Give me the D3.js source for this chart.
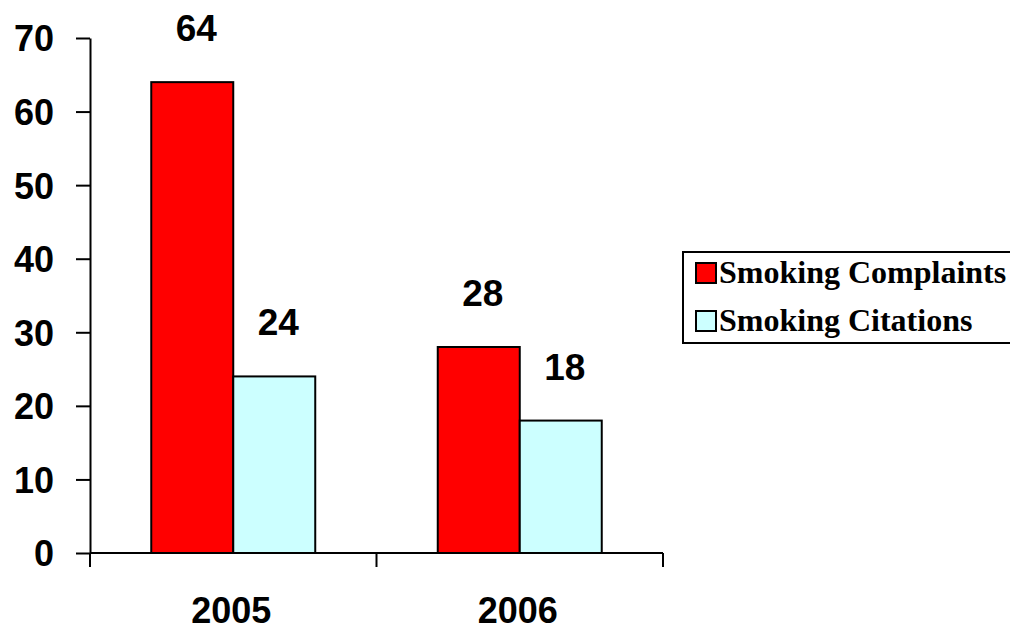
<!DOCTYPE html>
<html>
<head>
<meta charset="utf-8">
<script src="https://cdn.jsdelivr.net/npm/d3@7"></script>
<style>
  body { margin: 0; background: #fff; }
  svg { display: block; }
</style>
</head>
<body>
<div id="chart"></div>
<script>
// chart data
const years = ["2005", "2006"];
const seriesNames = ["Smoking Complaints", "Smoking Citations"];
const complaints = [64, 28];
const citations = [24, 18];
const yTicks = [0, 10, 20, 30, 40, 50, 60, 70];
const colors = ["#ff0000", "#ccffff"];

const width = 1010, height = 630;
const plotLeft = 90, plotRight = 663, plotTop = 38, plotBottom = 553;
const sans = "Liberation Sans, Arial, sans-serif";

const svg = d3.select("#chart").append("svg")
  .attr("width", width)
  .attr("height", height);

const x = d3.scaleBand().domain(years).range([plotLeft, plotRight]).paddingInner(0).paddingOuter(0);
const x1 = d3.scaleBand().domain(seriesNames).range([0, x.bandwidth()]).paddingOuter(0.747).paddingInner(0);
const y = d3.scaleLinear().domain([0, 70]).range([plotBottom, plotTop]);

const series = [complaints, citations];

// bars + value labels
seriesNames.forEach((name, s) => {
  svg.append("g").selectAll("rect")
    .data(years)
    .join("rect")
    .attr("x", d => x(d) + x1(name))
    .attr("y", (d, i) => y(series[s][i]))
    .attr("width", x1.bandwidth())
    .attr("height", (d, i) => y(0) - y(series[s][i]))
    .attr("fill", colors[s])
    .attr("stroke", "#000")
    .attr("stroke-width", 2);

  svg.append("g").selectAll("text")
    .data(years)
    .join("text")
    .attr("x", d => x(d) + x1(name) + x1.bandwidth() / 2 + 4)
    .attr("y", (d, i) => y(series[s][i]) - 41)
    .attr("text-anchor", "middle")
    .style("font-family", sans)
    .style("font-weight", "bold")
    .style("font-size", "37px")
    .text((d, i) => series[s][i]);
});

// y axis
const yAxis = svg.append("g")
  .attr("transform", `translate(${plotLeft},0)`)
  .call(d3.axisLeft(y).tickValues(yTicks).tickSize(14).tickSizeOuter(0).tickPadding(22));
yAxis.selectAll("line, path").attr("stroke", "#000").attr("stroke-width", 2);
yAxis.selectAll("text")
  .attr("dy", "0.36em")
  .style("font-family", sans)
  .style("font-weight", "bold")
  .style("font-size", "36px")
  .attr("fill", "#000");

// x axis
const xAxis = svg.append("g")
  .attr("transform", `translate(0,${plotBottom})`);
xAxis.append("line")
  .attr("x1", plotLeft).attr("x2", plotRight)
  .attr("stroke", "#000").attr("stroke-width", 2);
xAxis.selectAll("line.tick")
  .data(x.domain().map(d => x(d)).concat([plotRight]))
  .join("line")
  .attr("class", "tick")
  .attr("x1", d => d).attr("x2", d => d)
  .attr("y1", 0).attr("y2", 14)
  .attr("stroke", "#000").attr("stroke-width", 2);
xAxis.selectAll("text")
  .data(years)
  .join("text")
  .attr("x", d => x(d) + x.bandwidth() / 2 - 2)
  .attr("y", 70)
  .attr("text-anchor", "middle")
  .style("font-family", sans)
  .style("font-weight", "bold")
  .style("font-size", "36px")
  .text(d => d);

// legend
const legend = svg.append("g");
legend.append("rect")
  .attr("x", 683).attr("y", 252)
  .attr("width", 340).attr("height", 91)
  .attr("fill", "#fff").attr("stroke", "#000").attr("stroke-width", 2);
seriesNames.forEach((name, i) => {
  const ly = 263 + i * 48;
  legend.append("rect")
    .attr("x", 696).attr("y", ly)
    .attr("width", 20).attr("height", 20)
    .attr("fill", colors[i]).attr("stroke", "#000").attr("stroke-width", 2);
  legend.append("text")
    .attr("x", 719).attr("y", ly + 20)
    .style("font-family", "Liberation Serif, 'Times New Roman', serif")
    .style("font-weight", "bold")
    .style("font-size", "32px")
    .text(name);
});
</script>
</body>
</html>
